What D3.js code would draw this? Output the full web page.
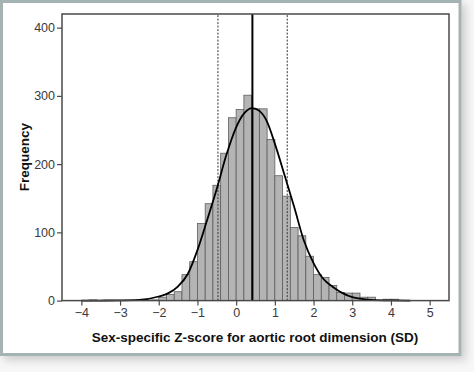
<!DOCTYPE html>
<html>
<head>
    <meta charset="utf-8">
    <script src="https://d3js.org/d3.v7.min.js"></script>
    <style>
        body {
            margin: 0;
            background-color: #f7f7f7;
            font-family: Arial, 'Liberation Sans', sans-serif;
        }
        .tick-label {
            font-size: 12.5px;
            fill: #3a3a3a;
        }
        .axis-title {
            font-size: 13.5px;
            font-weight: bold;
            fill: #111;
        }
    </style>
</head>
<body>
    <div id="chart"></div>
    <script>
        // histogram bins (lower edge, width 0.2 SD) and counts
        const binStarts = [-3.8, -2.6, -2.2, -2.0, -1.8, -1.6, -1.4, -1.2, -1.0, -0.8, -0.6, -0.4, -0.2,
            0.0, 0.2, 0.4, 0.6, 0.8, 1.0, 1.2, 1.4, 1.6, 1.8, 2.0, 2.2, 2.4, 2.6, 2.8, 3.0, 3.2, 3.4, 3.8, 4.0];
        const binCounts = [1, 1, 1, 5, 9, 13, 38, 57, 113, 142, 169, 216, 268,
            280, 301, 281, 281, 236, 183, 153, 107, 95, 65, 38, 34, 22, 12, 11, 11, 5, 5, 2, 2];
        const binWidth = 0.2;

        // fitted normal curve
        const curveX = [-4.0, -3.5, -3.0, -2.5, -2.0, -1.75, -1.5, -1.25, -1.0, -0.75, -0.5, -0.25,
            0.0, 0.2, 0.42, 0.6, 0.8, 1.0, 1.25, 1.5, 1.75, 2.0, 2.25, 2.5, 2.75, 3.0, 3.25, 3.5, 4.0, 4.5];
        const curveY = [0, 0.1, 0.3, 1, 6, 11, 21, 39, 74, 118, 164, 214,
            254, 274, 282, 278, 262, 230, 184, 137, 88, 55, 32, 20, 11, 5, 2.5, 1, 0.2, 0];

        // mean and +/- 1 SD reference lines
        const meanLine = 0.42;
        const sdLines = [-0.47, 1.32];

        const xTicks = [-4, -3, -2, -1, 0, 1, 2, 3, 4, 5];
        const yTicks = [0, 100, 200, 300, 400];

        const width = 474, height = 372;

        const svg = d3.select('#chart').append('svg')
            .attr('width', width)
            .attr('height', height);

        const defs = svg.append('defs');
        const shadow = defs.append('filter').attr('id', 'shadow')
            .attr('x', '-5%').attr('y', '-5%').attr('width', '115%').attr('height', '115%');
        shadow.append('feDropShadow')
            .attr('dx', 4).attr('dy', 4).attr('stdDeviation', 4)
            .attr('flood-color', '#000').attr('flood-opacity', 0.18);

        // outer card
        svg.append('rect')
            .attr('x', 1.5).attr('y', 1.5)
            .attr('width', 458.5).attr('height', 353)
            .attr('fill', '#fff')
            .attr('stroke', '#a6b3b3')
            .attr('stroke-width', 3)
            .attr('filter', 'url(#shadow)');

        const x = d3.scaleLinear().domain([-4.5, 5.5]).range([62, 449]);
        const y = d3.scaleLinear().domain([0, 420]).range([300.6, 14]);

        // bars
        svg.append('g')
            .selectAll('rect')
            .data(binStarts)
            .join('rect')
            .attr('x', d => x(d))
            .attr('width', d => x(d + binWidth) - x(d))
            .attr('y', (d, i) => y(binCounts[i]))
            .attr('height', (d, i) => y(0) - y(binCounts[i]))
            .attr('fill', '#b4b4b4')
            .attr('stroke', '#5e5e5e')
            .attr('stroke-width', 0.8);

        // dashed SD lines
        svg.append('g')
            .selectAll('line')
            .data(sdLines)
            .join('line')
            .attr('x1', d => x(d)).attr('x2', d => x(d))
            .attr('y1', y(0)).attr('y2', y.range()[1])
            .attr('stroke', '#333')
            .attr('stroke-width', 1)
            .attr('stroke-dasharray', '2,1.5');

        // mean line
        svg.append('line')
            .attr('x1', x(meanLine)).attr('x2', x(meanLine))
            .attr('y1', y(0)).attr('y2', y.range()[1])
            .attr('stroke', '#000')
            .attr('stroke-width', 2);

        // normal curve
        const line = d3.line()
            .x(d => x(d))
            .y((d, i) => y(curveY[i]))
            .curve(d3.curveMonotoneX);

        svg.append('path')
            .datum(curveX)
            .attr('d', line)
            .attr('fill', 'none')
            .attr('stroke', '#000')
            .attr('stroke-width', 1.8);

        // frame
        svg.append('rect')
            .attr('x', x.range()[0]).attr('y', y.range()[1])
            .attr('width', x.range()[1] - x.range()[0])
            .attr('height', y(0) - y.range()[1])
            .attr('fill', 'none')
            .attr('stroke', '#4a4a4a')
            .attr('stroke-width', 1.5);

        // axes
        const xAxis = d3.axisBottom(x).tickValues(xTicks).tickSize(5).tickPadding(3);
        const yAxis = d3.axisLeft(y).tickValues(yTicks).tickSize(5).tickPadding(2);

        const gx = svg.append('g')
            .attr('transform', `translate(0,${y(0)})`)
            .call(xAxis);
        const gy = svg.append('g')
            .attr('transform', `translate(${x.range()[0]},0)`)
            .call(yAxis);

        [gx, gy].forEach(g => {
            g.select('.domain').remove();
            g.selectAll('.tick line').attr('stroke', '#4a4a4a').attr('stroke-width', 1.2);
            g.selectAll('.tick text')
                .attr('class', 'tick-label')
                .attr('font-family', null)
                .attr('font-size', null)
                .attr('fill', null);
        });

        // axis titles
        svg.append('text')
            .attr('class', 'axis-title')
            .attr('text-anchor', 'middle')
            .attr('transform', 'translate(29,157) rotate(-90)')
            .text('Frequency');

        svg.append('text')
            .attr('class', 'axis-title')
            .attr('text-anchor', 'middle')
            .attr('x', 255)
            .attr('y', 342)
            .text('Sex-specific Z-score for aortic root dimension (SD)');
    </script>
</body>
</html>
